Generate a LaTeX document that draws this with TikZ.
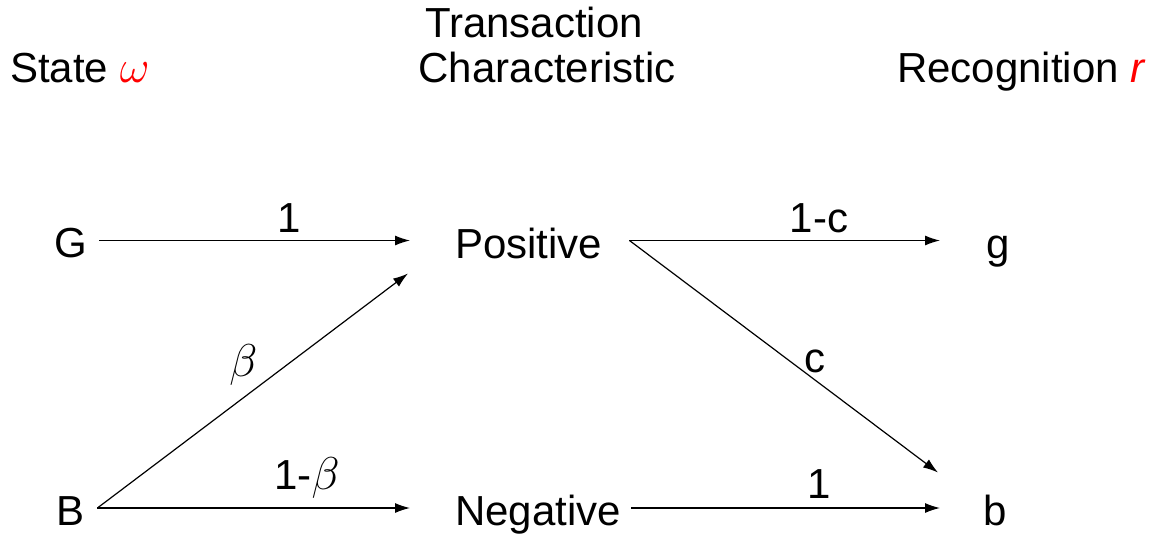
\RequirePackage{fix-cm}
\documentclass[tikz,border=0pt]{standalone}
\usepackage{fontspec}
\setmainfont{Liberation Sans}
\usepackage{xcolor}
\usetikzlibrary{arrows.meta,positioning}
\newcommand{\bigmath}[1]{{\fontsize{46}{46}\selectfont$#1$}}

\begin{document}
\begin{tikzpicture}[
  x=1pt,y=-1pt,
  txt/.style={inner sep=0pt,font=\fontsize{42}{46}\selectfont},
  state/.style={txt,anchor=base west,text height=31pt,text depth=0pt},
  lbl/.style={txt,inner sep=0pt},
  arr/.style={-{Latex[length=15pt,width=10pt]},line width=1.2pt,color=black}
]
\useasboundingbox (0,0) rectangle (1159,538);
% headings
\node[txt,anchor=base west] (statehd) at (10,82) {State \textcolor{red}{\bigmath{\omega}}};
\node[txt,anchor=base] (transhd) at (534,37) {Transaction};
\node[txt,anchor=base] (charhd) at (547,82) {Characteristic};
\node[txt,anchor=base west] (recoghd) at (897,82) {Recognition \textcolor{red}{\textit{r}}};
% states, characteristics, recognitions
\node[state] (G) at (54,257) {G};
\node[state] (B) at (56,525) {B};
\node[state] (pos) at (455,258) {Positive};
\node[state] (neg) at (455,525) {Negative};
\node[state] (g) at (986,258) {g};
\node[state] (b) at (983,525) {b};
% connectors
\draw[arr] ([xshift=12pt,yshift=1pt]G.east) -- node[lbl,pos=0.61,above=7pt]{1} ([xshift=-45pt,yshift=2pt]pos.west);
\draw[arr] ([xshift=13pt,yshift=1.5pt]B.east) -- node[lbl,pos=0.47,above=12pt]{\bigmath{\beta}} ([xshift=-47pt,yshift=-31pt]pos.west);
\draw[arr] ([xshift=13pt,yshift=1.5pt]B.east) -- node[lbl,pos=0.67,above=9pt]{1-\bigmath{\beta}} ([xshift=-45pt,yshift=1.5pt]neg.west);
\draw[arr] ([xshift=27pt,yshift=2pt]pos.east) -- node[lbl,pos=0.61,above=7pt]{1-c} ([xshift=-46pt,yshift=2pt]g.west);
\draw[arr] ([xshift=27pt,yshift=2pt]pos.east) -- node[lbl,pos=0.6,above=6pt]{c} ([xshift=-45pt,yshift=37pt]b.west);
\draw[arr] ([xshift=10pt,yshift=1.5pt]neg.east) -- node[lbl,pos=0.61,above=9pt]{1} ([xshift=-43pt,yshift=1.5pt]b.west);
\end{tikzpicture}
\end{document}
